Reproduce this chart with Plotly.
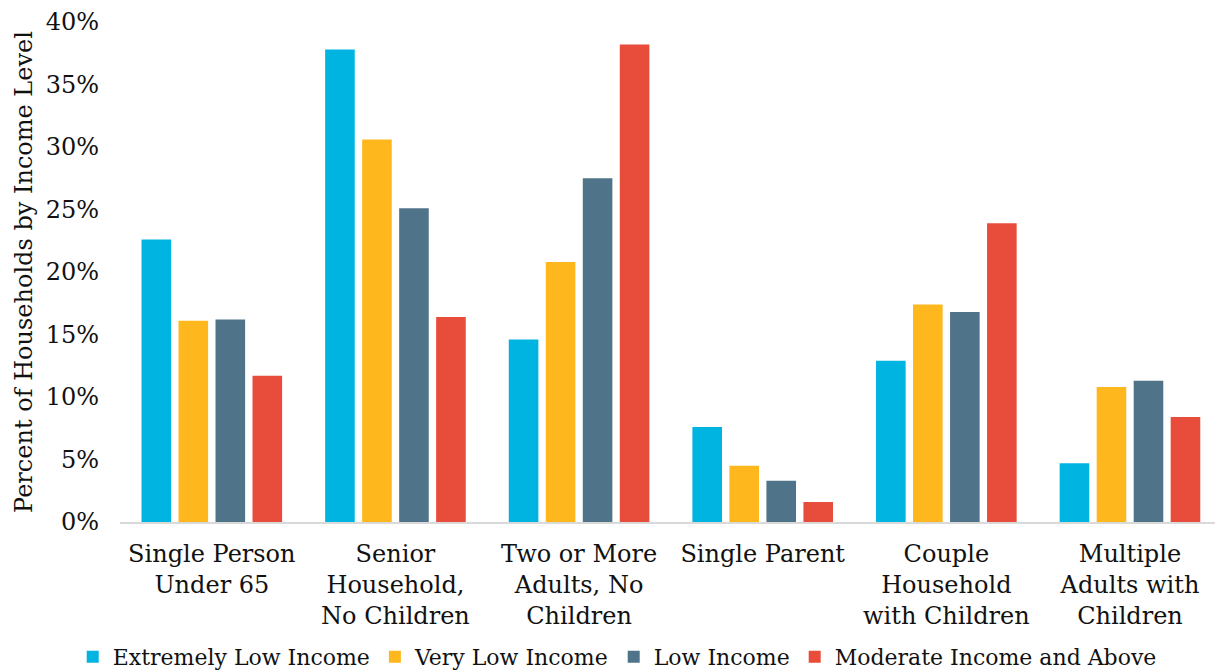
import plotly.graph_objects as go

categories = [
    "Single Person<br>Under 65",
    "Senior<br>Household,<br>No Children",
    "Two or More<br>Adults, No<br>Children",
    "Single Parent",
    "Couple<br>Household<br>with Children",
    "Multiple<br>Adults with<br>Children",
]

series_names = [
    "Extremely Low Income",
    "Very Low Income",
    "Low Income",
    "Moderate Income and Above",
]

extremely_low = [22.6, 37.8, 14.6, 7.6, 12.9, 4.7]
very_low = [16.1, 30.6, 20.8, 4.5, 17.4, 10.8]
low = [16.2, 25.1, 27.5, 3.3, 16.8, 11.3]
moderate_above = [11.7, 16.4, 38.2, 1.6, 23.9, 8.4]

colors = ["#00B4E2", "#FFB71E", "#4F7389", "#E84C3A"]

tick_vals = [0, 5, 10, 15, 20, 25, 30, 35, 40]
tick_text = [f"{v}%" for v in tick_vals]

FONT = "DejaVu Serif"
SIZE = 24
TXT = "#111111"

fig = go.Figure()
for name, vals, col in zip(series_names,
                           [extremely_low, very_low, low, moderate_above],
                           colors):
    fig.add_trace(go.Bar(
        name=name,
        x=categories,
        y=vals,
        marker=dict(color=col, line=dict(width=0)),
    ))

fig.update_layout(
    width=1215,
    height=671,
    barmode="group",
    bargap=0.194,
    bargroupgap=0.2,
    plot_bgcolor="white",
    paper_bgcolor="white",
    font=dict(family=FONT, size=SIZE, color=TXT),
    margin=dict(l=120, r=0, t=22, b=149, autoexpand=False),
    legend=dict(
        orientation="h",
        xref="container",
        yref="container",
        x=0.508,
        xanchor="center",
        y=0.021,
        yanchor="middle",
        font=dict(family=FONT, size=22, color=TXT),
        itemwidth=30,
        traceorder="normal",
    ),
    xaxis=dict(
        showline=True,
        linecolor="#D9D9D9",
        linewidth=2,
        ticks="",
        ticklabelstandoff=9,
        automargin=False,
        tickfont=dict(family=FONT, size=SIZE, color=TXT),
        range=[-0.5, 5.463],
    ),
    yaxis=dict(
        range=[0, 40],
        tickvals=tick_vals,
        ticktext=tick_text,
        showgrid=False,
        zeroline=False,
        showline=False,
        ticks="",
        ticklabelstandoff=20,
        automargin=False,
        tickfont=dict(family=FONT, size=SIZE, color=TXT),
        title=dict(text="Percent of Households by Income Level",
                   font=dict(family=FONT, size=SIZE, color=TXT),
                   standoff=6),
    ),
)

fig.write_html("out.html")
